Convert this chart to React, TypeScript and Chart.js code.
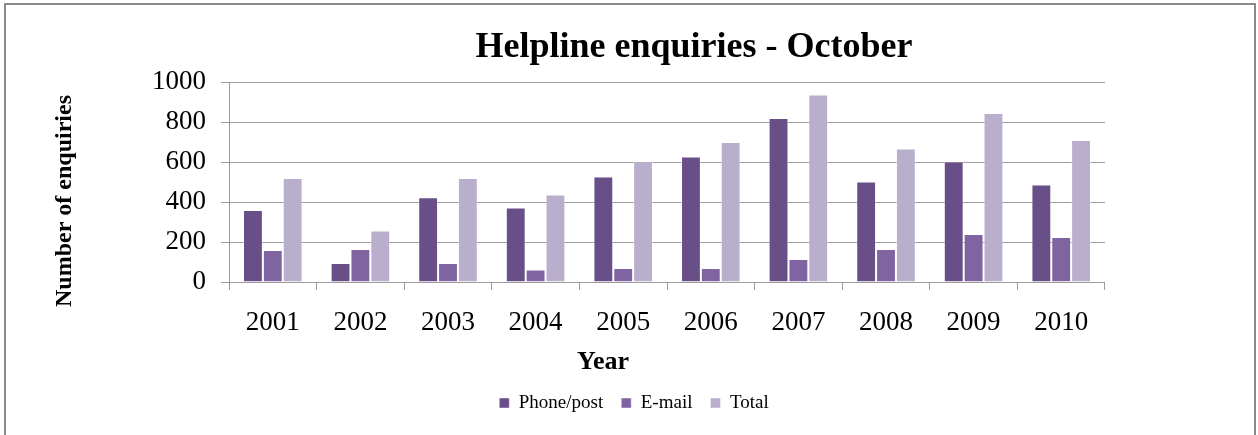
import React, { useEffect, useRef } from "react";
import { Chart, registerables } from "chart.js";

Chart.register(...registerables);

const years = ["2001", "2002", "2003", "2004", "2005", "2006", "2007", "2008", "2009", "2010"];
const phonePost = [360, 95, 424, 372, 527, 628, 820, 502, 603, 487];
const email = [160, 165, 95, 63, 70, 70, 115, 165, 240, 225];
const total = [520, 257, 520, 437, 602, 700, 937, 667, 845, 710];
const yTicks = [0, 200, 400, 600, 800, 1000];

const chartTitle = "Helpline enquiries - October";
const xTitle = "Year";
const yTitle = "Number of enquiries";

const FONT = "'Liberation Serif', 'Times New Roman', serif";

const placePlugin = {
  id: "placeTexts",
  afterLayout(chart: any) {
    const tb = chart.titleBlock;
    if (tb) {
      const d = 694 - (tb.left + tb.right) / 2;
      tb.left += d;
      tb.right += d;
    }
    const lg = chart.legend;
    if (lg) {
      const d = 634 - (lg.left + lg.right) / 2;
      lg.left += d;
      lg.right += d;
    }
    const xs = chart.scales.x;
    if (xs) {
      const d = 603 - (xs.left + xs.right) / 2;
      xs.left += d;
      xs.right += d;
    }
    const yt = chart.scales.yTitle;
    if (yt) {
      const d = 201 - (yt.top + yt.bottom) / 2;
      yt.top += d;
      yt.bottom += d;
    }
  },
};

export default function App() {
  const ref = useRef<HTMLCanvasElement | null>(null);

  useEffect(() => {
    if (!ref.current) return;
    Chart.defaults.font.family = FONT;
    Chart.defaults.color = "#000";
    const chart = new Chart(ref.current, {
      type: "bar",
      data: {
        labels: years,
        datasets: [
          { label: "Phone/post", data: phonePost, backgroundColor: "#684F88", borderColor: "rgba(255,255,255,0.45)", borderWidth: 1 },
          { label: "E-mail", data: email, backgroundColor: "#8064A2", borderColor: "rgba(255,255,255,0.45)", borderWidth: 1 },
          { label: "Total", data: total, backgroundColor: "#B9AFCC", borderColor: "rgba(255,255,255,0.45)", borderWidth: 1 },
        ],
      },
      plugins: [placePlugin],
      options: {
        responsive: false,
        animation: false,
        devicePixelRatio: 1,
        layout: { padding: { left: 49, right: 153, top: 0, bottom: 12.5 } },
        datasets: { bar: { categoryPercentage: 0.68, barPercentage: 1.0, clip: false } },
        plugins: {
          title: {
            display: true,
            text: chartTitle,
            color: "#000",
            font: { family: FONT, size: 36, weight: "bold" },
            padding: { top: 26.4, bottom: 12.4 },
          },
          legend: {
            position: "bottom",
            labels: {
              boxWidth: 10,
              boxHeight: 10,
              padding: 18,
              color: "#000",
              font: { family: FONT, size: 19 },
            },
          },
          tooltip: { enabled: false },
        },
        scales: {
          x: {
            type: "category",
            grid: { display: true, drawOnChartArea: false, drawTicks: true, tickLength: 8, offset: true, color: "#9C9C9C", lineWidth: 1 },
            border: { display: false },
            ticks: { color: "#000", font: { family: FONT, size: 27 }, padding: 17, maxRotation: 0, autoSkip: false },
            title: { display: true, text: xTitle, color: "#000", font: { family: FONT, size: 26, weight: "bold" }, padding: { top: 0, bottom: -2 } },
            afterFit: (s: any) => { s.height = 93.5; },
          },
          y: {
            type: "linear",
            position: "left",
            weight: 0,
            min: 0,
            max: 1000,
            grid: { color: "#9C9C9C", lineWidth: 1, tickLength: 8, drawTicks: true },
            border: { display: true, color: "#9C9C9C", width: 1 },
            ticks: { color: "#000", font: { family: FONT, size: 27 }, padding: 15, callback: (v: any) => String(v) },
            afterBuildTicks: (s: any) => { s.ticks = yTicks.map((v) => ({ value: v })); },
            afterFit: (s: any) => { s.width = 229 - 49 - 28.8; },
          },
          yTitle: {
            type: "linear",
            position: "left",
            weight: 1,
            display: true,
            grid: { display: false, drawTicks: false },
            border: { display: false },
            ticks: { display: false },
            title: { display: true, text: yTitle, color: "#000", font: { family: FONT, size: 24, weight: "bold" }, padding: { top: 1, bottom: 0 } },
            afterFit: (s: any) => { s.width = 28.8; },
          },
        },
      },
    } as any);
    return () => chart.destroy();
  }, []);

  return (
    <div style={{ position: "fixed", left: 0, top: 0, width: 1258, height: 435, background: "#fff", overflow: "hidden" }}>
      <canvas ref={ref} width={1258} height={435} style={{ position: "absolute", left: 0, top: 0 }} />
      <div
        style={{
          position: "absolute",
          left: 4,
          top: 3,
          width: 1252,
          height: 500,
          boxSizing: "border-box",
          border: "2px solid #8A8A8A",
          pointerEvents: "none",
        }}
      />
    </div>
  );
}
